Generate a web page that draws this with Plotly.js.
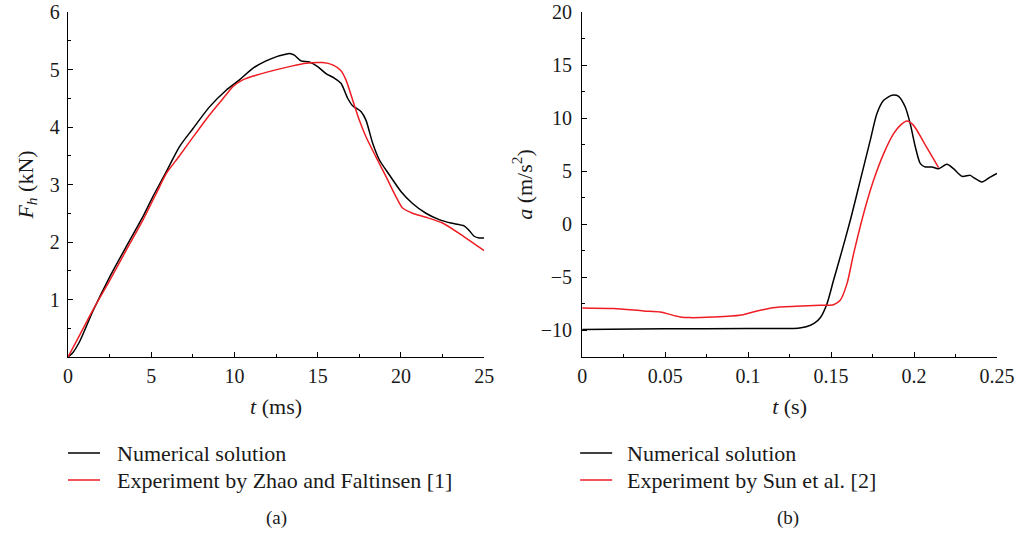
<!DOCTYPE html>
<html>
<head>
<meta charset="utf-8">
<script src="https://cdn.plot.ly/plotly-3.0.1.min.js"></script>
<style>html,body{margin:0;padding:0;background:#fff;}#chart{width:1016px;height:533px;}</style>
</head>
<body>
<div id="chart"></div>
<script>
// (a) Horizontal force F_h (kN) vs t (ms)
const fhTimeNum = [0,0.3,0.7,1.5,2.5,3.5,4.5,5.1,5.9,6.7,7.5,8.5,9.5,10.3,11.1,11.9,12.5,13.0,13.3,13.6,14.0,14.5,15.0,15.5,16.0,16.4,16.8,17.1,17.6,17.9,18.3,18.7,19.3,20.0,20.7,21.5,22.3,23.0,23.8,24.1,24.4,24.7,25.0];
const fhNum     = [0,0.08,0.27,0.8,1.39,1.92,2.44,2.79,3.22,3.66,3.97,4.35,4.64,4.82,5.02,5.15,5.22,5.26,5.28,5.25,5.15,5.13,5.05,4.93,4.85,4.76,4.50,4.37,4.27,4.12,3.72,3.43,3.17,2.88,2.67,2.50,2.39,2.33,2.28,2.20,2.10,2.07,2.07];
const fhTimeExp = [0,0.7,1.5,2.5,3.5,4.5,5.5,5.9,6.7,7.5,8.5,9.5,9.9,10.5,11.3,11.9,13.3,14.3,15.3,15.9,16.4,16.7,17.1,17.5,17.9,18.5,19.1,19.7,20.1,20.7,21.5,22.5,23.8,25];
const fhExp     = [0,0.38,0.82,1.33,1.86,2.38,2.96,3.19,3.5,3.82,4.21,4.56,4.70,4.82,4.90,4.95,5.05,5.11,5.12,5.08,4.98,4.82,4.47,4.12,3.83,3.48,3.14,2.79,2.59,2.50,2.43,2.33,2.09,1.85];

// (b) Acceleration a (m/s^2) vs t (s)
const accTimeNum = [0,0.05,0.1,0.13,0.135,0.14,0.1435,0.1475,0.1515,0.1555,0.1616,0.1676,0.1736,0.1776,0.1817,0.1867,0.1907,0.1947,0.1977,0.2008,0.2038,0.2068,0.2108,0.2148,0.2198,0.2238,0.2289,0.2339,0.2359,0.2409,0.2459,0.25];
const accNum     = [-9.9,-9.85,-9.82,-9.78,-9.65,-9.3,-8.8,-7.5,-5.27,-3.08,0.38,4.14,7.91,10.42,11.68,12.15,12.05,11.05,9.48,7.28,5.72,5.40,5.40,5.24,5.65,5.24,4.52,4.61,4.40,3.98,4.45,4.80];
const accTimeExp = [0,0.019,0.037,0.047,0.059,0.065,0.079,0.095,0.103,0.115,0.129,0.1435,0.1515,0.1555,0.1596,0.1636,0.1696,0.1756,0.1817,0.1877,0.1917,0.1957,0.1997,0.2058,0.2148];
const accExp     = [-7.88,-7.94,-8.16,-8.26,-8.73,-8.79,-8.73,-8.57,-8.26,-7.85,-7.72,-7.63,-7.57,-7.16,-5.59,-2.76,1.0,4.14,6.66,8.54,9.32,9.73,9.32,7.75,5.34];

const legendA = ["Numerical solution", "Experiment by Zhao and Faltinsen [1]"];
const legendB = ["Numerical solution", "Experiment by Sun et al. [2]"];
const fhTicks = [1, 2, 3, 4, 5, 6];

const W = 1016, H = 533;
// plot-area frame in pixels
const L = 68, R = 996.7, T = 12, B = 357;
const PW = R - L, PH = B - T;
const FONT = "Liberation Serif, Times New Roman, serif";
const TXT = "#1a1a1a";
const BLACK = "#000000", RED = "#ee1d23";
// pixel -> paper coordinates (paper = plot frame)
const px = v => (v - L) / PW, py = v => (B - v) / PH;

const lineStyle = c => ({color: c, width: 1.5, shape: "spline", smoothing: 0.7});

const traces = [
  {x: fhTimeNum, y: fhNum, xaxis: "x", yaxis: "y", mode: "lines", line: lineStyle(BLACK), name: legendA[0], showlegend: false, hoverinfo: "skip"},
  {x: fhTimeExp, y: fhExp, xaxis: "x", yaxis: "y", mode: "lines", line: lineStyle(RED), name: legendA[1], showlegend: false, hoverinfo: "skip"},
  {x: accTimeNum, y: accNum, xaxis: "x2", yaxis: "y2", mode: "lines", line: lineStyle(BLACK), name: legendB[0], showlegend: false, hoverinfo: "skip"},
  {x: accTimeExp, y: accExp, xaxis: "x2", yaxis: "y2", mode: "lines", line: lineStyle(RED), name: legendB[1], showlegend: false, hoverinfo: "skip"}
];

const tickFont = {family: FONT, size: 20, color: TXT};
const titleFont = {family: FONT, size: 22, color: TXT};
const baseAxis = {
  showline: true, linecolor: "#000", linewidth: 1.2, mirror: false, automargin: false,
  showgrid: false, zeroline: false, ticks: "inside", ticklen: 5, tickwidth: 1, tickcolor: "#000",
  tickfont: tickFont, fixedrange: true
};
const minorTicks = d => ({ticks: "inside", ticklen: 3, tickwidth: 1, tickcolor: "#000", tickmode: "linear", tick0: 0, dtick: d, showgrid: false});

const layout = {
  width: W, height: H,
  margin: {l: L, r: W - R, t: T, b: H - B, pad: 0},
  paper_bgcolor: "#fff", plot_bgcolor: "#fff",
  showlegend: false,
  xaxis: Object.assign({}, baseAxis, {
    domain: [0, px(484)], anchor: "y", range: [0, 25],
    tickmode: "linear", tick0: 0, dtick: 5, ticklabelstandoff: 1,
    minor: minorTicks(2.5),
    title: {text: "<i>t</i> (ms)", font: titleFont, standoff: 12}
  }),
  yaxis: Object.assign({}, baseAxis, {
    domain: [0, 1], anchor: "x", range: [0, 6],
    tickmode: "array", tickvals: fhTicks, ticklabelstandoff: 3,
    minor: minorTicks(0.5),
    title: {text: "<i>F</i><sub><i>h</i></sub> (kN)", font: titleFont, standoff: 10}
  }),
  xaxis2: Object.assign({}, baseAxis, {
    domain: [px(582), 1], anchor: "y2", range: [0, 0.25],
    tickmode: "linear", tick0: 0, dtick: 0.05, ticklabelstandoff: 1,
    minor: minorTicks(0.025),
    title: {text: "<i>t</i> (s)", font: titleFont, standoff: 12}
  }),
  yaxis2: Object.assign({}, baseAxis, {
    domain: [0, 1], anchor: "x2", range: [-12.5, 20],
    tickmode: "linear", tick0: 0, dtick: 5, ticklabelstandoff: 5,
    minor: minorTicks(2.5),
    title: {text: "<i>a</i> (m/s<sup>2</sup>)", font: titleFont, standoff: 2}
  }),
  shapes: [
    {type: "line", xref: "paper", yref: "paper", x0: px(68), x1: px(100), y0: py(453), y1: py(453), line: {color: BLACK, width: 1.5}},
    {type: "line", xref: "paper", yref: "paper", x0: px(68), x1: px(100), y0: py(480), y1: py(480), line: {color: RED, width: 1.5}},
    {type: "line", xref: "paper", yref: "paper", x0: px(580), x1: px(612), y0: py(453), y1: py(453), line: {color: BLACK, width: 1.5}},
    {type: "line", xref: "paper", yref: "paper", x0: px(580), x1: px(612), y0: py(480), y1: py(480), line: {color: RED, width: 1.5}}
  ],
  annotations: []
};

const ann = (text, x, y, opts) => Object.assign({
  text: text, xref: "paper", yref: "paper", x: px(x), y: py(y),
  showarrow: false, xanchor: "center", yanchor: "middle",
  font: {family: FONT, size: 22, color: TXT}
}, opts || {});

layout.annotations.push(
  ann(legendA[0], 115, 453, {xanchor: "left"}),
  ann(legendA[1], 115, 480, {xanchor: "left"}),
  ann(legendB[0], 625, 453, {xanchor: "left"}),
  ann(legendB[1], 625, 480, {xanchor: "left"}),
  ann("(a)", 276, 518, {font: {family: FONT, size: 19, color: TXT}}),
  ann("(b)", 788, 518, {font: {family: FONT, size: 19, color: TXT}})
);

Plotly.newPlot("chart", traces, layout, {staticPlot: true, displayModeBar: false});
</script>
</body>
</html>
